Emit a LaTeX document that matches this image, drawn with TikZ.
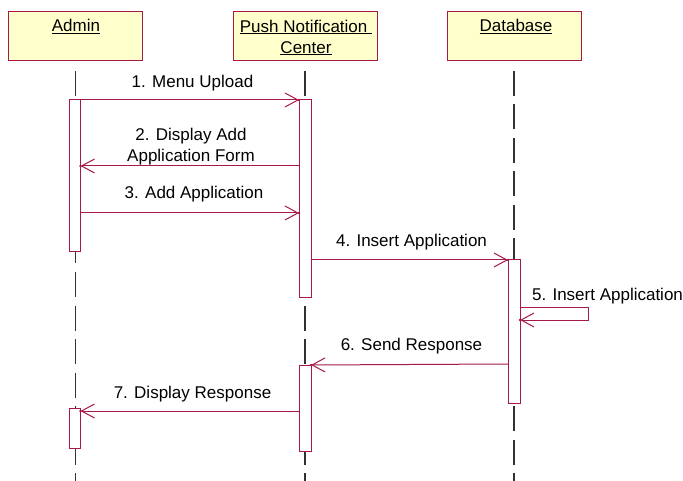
\documentclass[tikz,border=0pt]{standalone}
\usepackage{fontspec}
\setmainfont{Liberation Sans}
\usetikzlibrary{arrows.meta}
\definecolor{umlred}{RGB}{165,25,70}
\definecolor{umlfill}{RGB}{255,255,204}
\definecolor{lifegray}{RGB}{50,50,50}
\begin{document}
\begin{tikzpicture}[x=1pt,y=-1pt,
  every node/.style={font=\fontsize{17}{21}\selectfont, inner sep=0pt, outer sep=0pt},
  headbox/.style={draw=umlred, fill=umlfill, line width=1pt, minimum width=134, minimum height=49},
  headtext/.style={align=center},
  act/.style={draw=umlred, fill=white, line width=1pt, minimum width=11, anchor=north},
  lifeline/.style={draw=lifegray, line width=1.3pt, dash pattern=on 25pt off 8.5pt},
  msg/.style={draw=umlred, line width=1pt, -{Straight Barb[length=13pt,width=14pt,line width=1pt]}},
  tipdot/.style={fill=umlred},
  lbl/.style={anchor=base}
]
\useasboundingbox (0,0) rectangle (683,481);

% header boxes
\node[headbox] (adminbox) at (75,36.5) {};
\node[headbox, minimum width=144] (pncbox) at (305,36.5) {};
\node[headbox] (dbbox) at (514.5,36.5) {};
\node[headtext, anchor=base] (admint) at (76,32) {\underline{Admin}};
\node[headtext] (pnct) at (306,37.5) {\underline{Push Notification\ }\\\underline{Center}};
\node[headtext, anchor=base] (dbt) at (516,32) {\underline{Database}};

% lifeline ends
\coordinate (ltop) at (0,71);
\coordinate (lbot) at (0,481);
\draw[lifeline] (75.5,0 |- ltop) coordinate (al0) -- (75.5,0 |- lbot) coordinate (al1);
\draw[lifeline] (305,0 |- ltop) coordinate (pl0) -- (305,0 |- lbot) coordinate (pl1);
\draw[lifeline] (514,0 |- ltop) coordinate (dl0) -- (514,0 |- lbot) coordinate (dl1);

% activations
\node[act, minimum height=152] (a1) at (75,100) {};
\node[act, minimum height=40] (a2) at (75,408) {};
\node[act, minimum width=12, minimum height=197] (p1) at (305,100) {};
\node[act, minimum width=12, minimum height=86] (p2) at (305,365) {};
\node[act, minimum width=12, minimum height=143] (d1) at (514,260) {};

% message levels
\coordinate (y2) at (0,166);
\coordinate (y3) at (0,213);
\coordinate (y5) at (0,307);
\coordinate (s5) at (588,320);
\coordinate (y6) at (0,364);
\coordinate (y7) at (0,411);

% messages
\draw[msg] (a1.north east) -- (p1.north west);
\fill[tipdot] (p1.north west) circle (1.4pt);
\node[lbl] (l1) at (192.5,88) {1. Menu Upload};

\draw[msg] (p1.west |- y2) -- (a1.east |- y2);
\fill[tipdot] (a1.east |- y2) circle (1.4pt);
\node[align=center] (l2) at (191,147) {2. Display Add\\Application Form};

\draw[msg] (a1.east |- y3) -- (p1.west |- y3);
\fill[tipdot] (p1.west |- y3) circle (1.4pt);
\node[lbl] (l3) at (194,199) {3. Add Application};

\draw[msg] (p1.east |- d1.north) -- (d1.north west);
\fill[tipdot] (d1.north west) circle (1.4pt);
\node[lbl] (l4) at (411.5,247) {4. Insert Application};

\draw[msg] (d1.east |- y5) -| (s5) -- (d1.east |- s5);
\fill[tipdot] (d1.east |- s5) circle (1.4pt);
\node[lbl] (l5) at (607.5,301) {5. Insert Application};

\draw[msg] (d1.west |- y6) -- (p2.north east);
\fill[tipdot] (p2.north east) circle (1.4pt);
\node[lbl] (l6) at (411.5,350) {6. Send Response};

\draw[msg] (p2.west |- y7) -- (a2.east |- y7);
\fill[tipdot] (a2.east |- y7) circle (1.4pt);
\node[lbl] (l7) at (192.5,398) {7. Display Response};
\end{tikzpicture}
\end{document}
